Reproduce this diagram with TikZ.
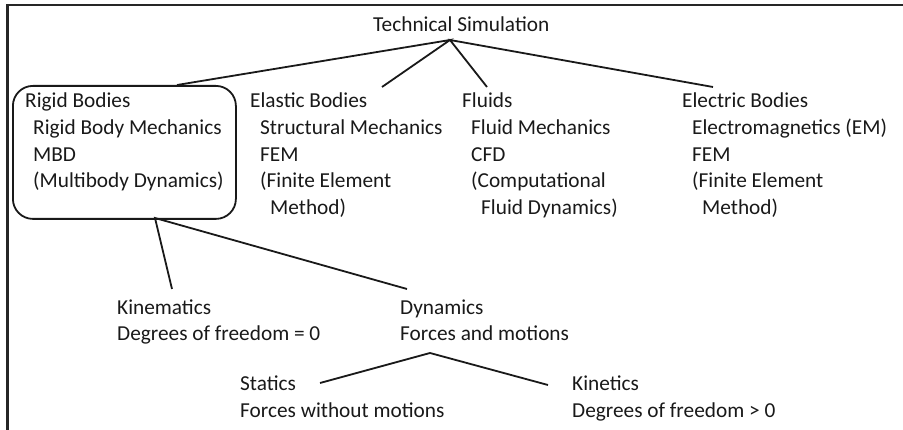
\documentclass[tikz,border=0pt]{standalone}
\usepackage{fontspec}
\setmainfont{Carlito}
\begin{document}
\begin{tikzpicture}[x=1pt,y=-1pt,
  txt/.style={anchor=base west, inner sep=0pt, align=left, text=black!90,
    font=\fontsize{21.3}{26.6}\selectfont},
  conn/.style={line width=1.8pt, draw=black!90},
  frame/.style={line width=2.4pt, draw=black!85}]
\useasboundingbox (0,0) rectangle (903,430);
% frame (only top and left visible)
\draw[frame] (7.5,430) -- (7.5,5) -- (903,5);
% title (anchor = baseline of last line)
\node[txt] (tech) at (373,32) {Technical Simulation};
\coordinate (apex) at (450,40);
% level 1 blocks
\node[draw=black!90, line width=1.8pt, rounded corners=20pt, minimum width=223pt,
  minimum height=133pt, anchor=north west, inner sep=0pt] (rbox) at (12,85) {};
\node[txt] (rigid) at (25,187.8) {Rigid Bodies\\\hspace*{8pt}Rigid Body Mechanics\\\hspace*{8pt}MBD\\\hspace*{8pt}(Multibody Dynamics)};
\node[txt] (elastic) at (250,214.4) {Elastic Bodies\\\hspace*{10pt}Structural Mechanics\\\hspace*{10pt}FEM\\\hspace*{10pt}(Finite Element\\\hspace*{20pt}Method)};
\node[txt] (fluids) at (462,214.4) {Fluids\\\hspace*{9pt}Fluid Mechanics\\\hspace*{9pt}CFD\\\hspace*{9pt}(Computational\\\hspace*{19pt}Fluid Dynamics)};
\node[txt] (electric) at (682,214.4) {Electric Bodies\\\hspace*{10pt}Electromagnetics (EM)\\\hspace*{10pt}FEM\\\hspace*{10pt}(Finite Element\\\hspace*{20pt}Method)};
\coordinate (eRigid) at (177,85);
\coordinate (eElastic) at (382,87);
\coordinate (eFluids) at (487,87);
\coordinate (eElectric) at (713,87);
\draw[conn] (eRigid) -- (apex) -- (eElastic);
\draw[conn] (eFluids) -- (apex) -- (eElectric);
% level 2
\coordinate (apex2) at (155,218);
\node[txt] (kin) at (117,341) {Kinematics\\Degrees of freedom = 0};
\node[txt] (dyn) at (400,341) {Dynamics\\Forces and motions};
\coordinate (eKin) at (172,289);
\coordinate (eDyn) at (407,289);
\draw[conn] (eKin) -- (apex2) -- (eDyn);
% level 3
\coordinate (apex3) at (430,353);
\node[txt] (stat) at (240,417.5) {Statics\\Forces without motions};
\node[txt] (kinet) at (572,417.5) {Kinetics\\Degrees of freedom > 0};
\coordinate (eStat) at (320,383);
\coordinate (eKinet) at (548,385);
\draw[conn] (eStat) -- (apex3) -- (eKinet);
\end{tikzpicture}
\end{document}
